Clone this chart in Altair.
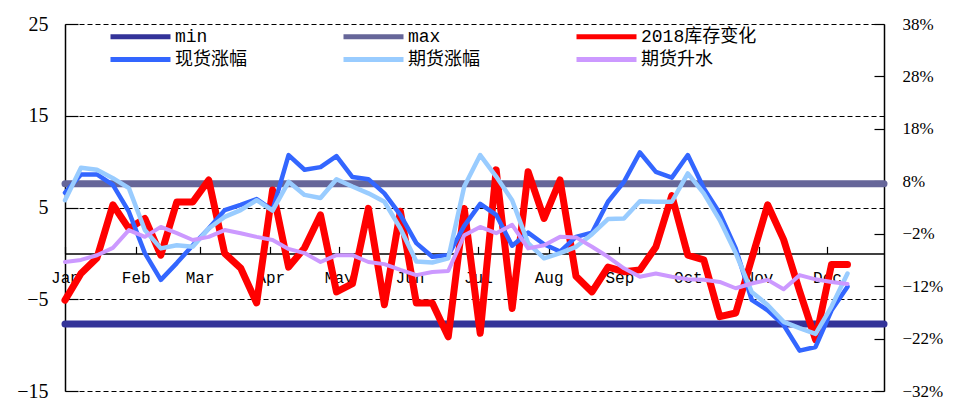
import altair as alt
import pandas as pd

# ---- data ----
month_labels = ["Jan", "Feb", "Mar", "Apr", "May", "Jun",
                "Jul", "Aug", "Sep", "Oct", "Nov", "Dec"]
month_start_day = [0, 31, 59, 90, 120, 151, 181, 212, 243, 273, 304, 334]

week_index = list(range(50))

stock_2018 = [-5.1, -2.2, -0.5, 5.3, 2.7, 3.8, -0.2, 5.6, 5.6, 8.0,
              0.0, -1.6, -5.4, 6.9, -1.5, 0.6, 4.2, -4.2, -3.3, 4.9,
              -5.6, 4.6, -5.4, -5.4, -9.1, 4.9, -8.7, 9.1, -6.0, 8.9,
              3.8, 8.0, -2.5, -4.2, -1.5, -2.0, -1.8, 0.7, 6.3, -0.2,
              -0.7, -6.9, -6.5, -0.6, 5.3, 1.5, -4.1, -9.4, -1.2, -1.2]

spot_change = [5.8, 9.3, 9.3, 7.3, 2.2, -5.7, -10.8, -7.6, -4.2, -1.0,
               2.5, 3.5, 4.6, 2.5, 13.0, 10.2, 10.7, 12.8, 8.8, 8.4,
               5.7, 1.6, -3.8, -6.4, -6.1, -0.5, 3.7, 1.6, -4.3, -1.8,
               -4.0, -5.4, -2.6, -1.8, 4.1, 7.9, 13.5, 9.8, 8.7, 13.0,
               6.7, 1.9, -4.8, -14.6, -16.6, -19.4, -24.3, -23.6, -16.6, -12.1]

futures_change = [4.4, 10.6, 10.2, 8.6, 6.7, -1.3, -4.8, -4.2, -4.5, -1.0,
                  1.2, 2.5, 4.4, 2.4, 7.9, 5.4, 4.8, 8.4, 7.0, 5.7,
                  4.1, -1.0, -7.3, -7.5, -6.7, 7.0, 13.0, 8.9, 4.4, -3.8,
                  -6.7, -5.7, -4.5, -2.1, 0.8, 0.9, 4.2, 4.1, 4.1, 9.5,
                  5.7, 0.6, -5.7, -13.1, -15.6, -18.8, -20.0, -21.1, -15.9, -9.6]

futures_premium = [-7.4, -7.0, -6.1, -4.7, -1.3, -2.6, -0.7, -1.9, -3.2, -2.6,
                   -1.3, -1.9, -2.6, -3.2, -4.9, -5.7, -7.4, -6.1, -6.1, -7.4,
                   -7.8, -8.9, -9.9, -9.3, -9.1, -2.3, -0.7, -1.9, -0.3, -4.8,
                   -4.2, -2.6, -2.7, -4.5, -6.4, -8.6, -10.2, -9.6, -10.2, -10.7,
                   -10.8, -11.2, -12.4, -11.5, -10.8, -12.6, -9.9, -10.7, -11.2, -11.6]

min_level = -7.7
max_level = 7.6

series_names = ["min", "max", "2018库存变化", "现货涨幅", "期货涨幅", "期货升水"]
series_colors = ["#333399", "#666699", "#FF0000", "#3366FF", "#99CCFF", "#CC99FF"]

left_ticks = [-15, -5, 5, 15, 25]
right_ticks = [-32, -22, -12, -2, 8, 18, 28, 38]

# ---- tables ----
days = [7 * i for i in week_index]


def frame(vals, name):
    return pd.DataFrame({"day": days, "value": vals, "series": name})


band_df = pd.DataFrame({"series": ["min", "max"], "value": [min_level, max_level]})

W, H = 819, 367

month_days_js = "[" + ",".join(str(d) for d in month_start_day) + "]"
month_labels_js = "[" + ",".join("'" + m + "'" for m in month_labels) + "]"

x_enc = alt.X(
    "day:Q",
    scale=alt.Scale(domain=[0, 359], nice=False, zero=False),
    axis=alt.Axis(
        orient="top", offset=-229.4, values=month_start_day,
        labelExpr=month_labels_js + "[indexof(" + month_days_js + ", datum.value)]",
        tickSize=7, labelPadding=-31, labelBaseline="middle", labelAlign="center",
        labelFont="Liberation Mono", labelFontSize=16, labelColor="black",
        domainColor="black", domainWidth=1.5, tickColor="black", tickWidth=1.2,
        grid=False, title=None, labelFlush=False, labelOverlap=False,
    ),
)

y_left = alt.Y(
    "value:Q",
    scale=alt.Scale(domain=[-15, 25], nice=False, zero=False),
    axis=alt.Axis(
        orient="right", offset=-W, values=left_ticks, tickSize=13,
        labelPadding=-30, labelAlign="right", labelBaseline="middle",
        labelFont="Liberation Serif", labelFontSize=20, labelColor="black",
        domainColor="black", domainWidth=1.5, tickColor="black", tickWidth=1.2,
        grid=True, gridColor="black", gridDash=[5, 3], gridWidth=1.2,
        title=None, labelFlush=False, labelOverlap=False,
    ),
)

y_right = alt.Y(
    "value:Q",
    scale=alt.Scale(domain=[-32, 38], nice=False, zero=False),
    axis=alt.Axis(
        orient="left", offset=-W, values=right_ticks, tickSize=10,
        labelPadding=-28, labelAlign="left", labelBaseline="middle",
        labelExpr="format(datum.value, 'd') + '%'",
        labelFont="Liberation Serif", labelFontSize=17, labelColor="black",
        domainColor="black", domainWidth=1.5, tickColor="black", tickWidth=1.2,
        grid=False, title=None, labelFlush=False, labelOverlap=False,
    ),
)

color_enc = alt.Color(
    "series:N",
    scale=alt.Scale(domain=series_names, range=series_colors),
    legend=alt.Legend(
        title=None, orient="none", direction="horizontal",
        legendX=43, legendY=0, columns=3,
        columnPadding=86, rowPadding=-6,
        symbolType="M-1,0H5", symbolSize=400,
        symbolStrokeWidth=5, labelOffset=42, labelLimit=400,
        labelFont="Liberation Mono, Noto Sans CJK SC", labelFontSize=18,
        labelColor="black",
    ),
)

bands = alt.Chart(band_df).mark_rule(strokeWidth=7, strokeCap="round").encode(
    y=y_left, color=color_enc
)
red = alt.Chart(frame(stock_2018, "2018库存变化")).mark_line(
    strokeWidth=7, strokeJoin="round", strokeCap="round"
).encode(x=x_enc, y=y_left, color=color_enc)

left_layer = alt.layer(bands, red)


def right_line(vals, name, sw):
    return alt.Chart(frame(vals, name)).mark_line(
        strokeWidth=sw, strokeJoin="round", strokeCap="round"
    ).encode(x=x_enc, y=y_right, color=color_enc)


right_layer = alt.layer(
    right_line(spot_change, "现货涨幅", 4.5),
    right_line(futures_change, "期货涨幅", 4.5),
    right_line(futures_premium, "期货升水", 4),
)

chart = (
    alt.layer(left_layer, right_layer)
    .resolve_scale(y="independent")
    .properties(
        width=W, height=H,
        autosize=alt.AutoSizeParams(type="none"),
        padding={"left": 57, "top": 16, "right": 61, "bottom": 10},
        background="white",
    )
    .configure_view(stroke=None)
)

chart.save("out.html", embed_options={"renderer": "svg", "actions": False})
